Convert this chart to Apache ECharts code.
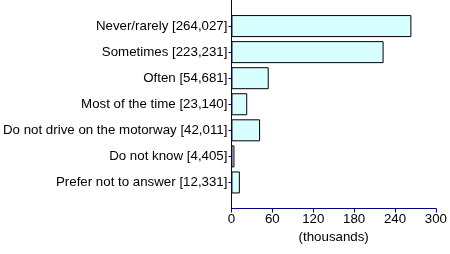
<!DOCTYPE html>
<html><head><meta charset="utf-8">
<script src="https://cdn.jsdelivr.net/npm/echarts@6/dist/echarts.min.js"></script>
<style>html,body{margin:0;padding:0;background:#fff}#c{width:450px;height:254px}</style>
</head><body><div id="c"></div>
<script>
var categories = ['Never/rarely [264,027]','Sometimes [223,231]','Often [54,681]','Most of the time [23,140]','Do not drive on the motorway [42,011]','Do not know [4,405]','Prefer not to answer [12,331]'];
var values = [264.027, 223.231, 54.681, 23.140, 42.011, 4.405, 12.331];
var xTicks = [0, 60, 120, 180, 240, 300];
var xName = '(thousands)';

var cats = [''].concat(categories).concat(['']).reverse();
var vals = [null].concat(values).concat([null]).reverse();
var axisColor = '#000080';
var fs = 13.3;
var chart = echarts.init(document.getElementById('c'));
chart.setOption({
  animation: false,
  grid: {left: 230, right: 12.5, top: 0, bottom: 45.5, containLabel: false},
  xAxis: {
    type: 'value', min: xTicks[0], max: xTicks[xTicks.length-1], interval: 60,
    name: xName, nameLocation: 'middle', nameGap: 21,
    nameTextStyle: {fontFamily: 'Liberation Sans', fontSize: fs, color: '#000'},
    axisLine: {show: true, lineStyle: {color: axisColor, width: 1}},
    axisTick: {show: true, length: 4, lineStyle: {color: axisColor}},
    axisLabel: {fontFamily: 'Liberation Sans', fontSize: fs, color: '#000', margin: 4},
    splitLine: {show: false}
  },
  yAxis: {
    type: 'category', data: cats, boundaryGap: false,
    axisLine: {show: true, lineStyle: {color: axisColor, width: 1}},
    axisTick: {show: true, length: 3, lineStyle: {color: axisColor},
      interval: function(i, v){ return v !== ''; }},
    axisLabel: {fontFamily: 'Liberation Sans', fontSize: fs, color: '#000', margin: 4, interval: 0},
    splitLine: {show: false}
  },
  series: [{
    type: 'bar', data: vals, barWidth: 22,
    itemStyle: {color: '#d7ffff', borderColor: '#000', borderWidth: 1}
  }]
});
</script></body></html>
